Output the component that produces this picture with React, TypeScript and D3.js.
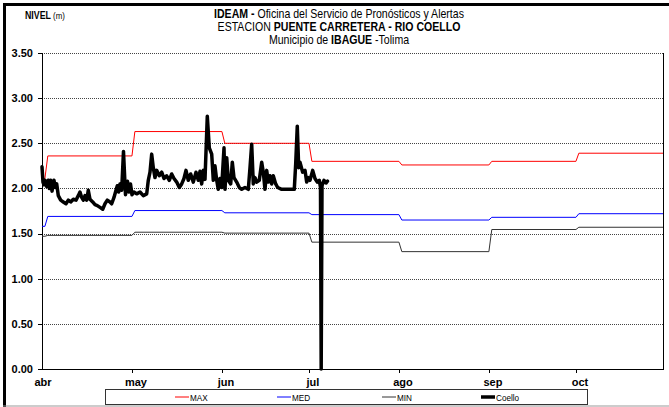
import React from "react";
import * as d3 from "d3";

// ---------- data ----------
const AXIS_START = "2013-03-31";
const AXIS_END = "2013-10-31";
const MONTH_LABELS = ["abr", "may", "jun", "jul", "ago", "sep", "oct"];
const MONTH_STARTS = ["2013-04-01", "2013-05-01", "2013-06-01", "2013-07-01", "2013-08-01", "2013-09-01", "2013-10-01"];
const Y_TICKS = [0, 0.5, 1.0, 1.5, 2.0, 2.5, 3.0, 3.5];

// historical statistics (m): value on the first day, then one value per month abr..oct
const MAX_START = 2.11;
const MAX_MONTHLY = [2.36, 2.63, 2.5, 2.3, 2.26, 2.3, 2.39];
const MED_START = 1.58;
const MED_MONTHLY = [1.69, 1.755, 1.73, 1.71, 1.65, 1.68, 1.72];
const MIN_START = 1.47;
const MIN_MONTHLY = [1.48, 1.515, 1.505, 1.405, 1.3, 1.545, 1.57];

// observed level, Rio Coello (days after 31 Mar, level m)
const COELLO_DAYS = [
  0, 0.34, 0.69, 1.03, 1.62, 2.17, 2.52, 3.0, 3.45, 4.13, 4.58, 5.07, 5.62, 6.44, 7.34, 8.27, 9.06, 9.89,
  10.79, 11.72, 12.51, 13.09, 13.68, 14.23, 14.82, 15.4, 15.95, 16.54, 17.47, 18.26, 19.06, 19.99, 20.92,
  21.71, 22.5, 23.43, 24.02, 24.81, 25.5, 25.95, 26.43, 26.88, 27.46, 28.08, 28.77, 29.46, 29.98, 30.5,
  31.01, 31.7, 32.63, 33.77, 34.91, 36.08, 36.63, 37.22, 37.8, 38.35, 38.94, 39.52, 40.42, 41.25, 42.04,
  42.97, 43.87, 44.69, 45.49, 46.42, 47.31, 48.14, 48.93, 49.62, 50.41, 51.24, 52.14, 53.07, 53.86, 54.45,
  55.03, 55.58, 56.17, 56.96, 57.65, 58.48, 59.03, 59.61, 60.2, 60.75, 61.34, 61.92, 62.72, 63.06, 63.65,
  64.2, 65.03, 65.58, 66.16, 67.09, 67.99, 68.82, 69.95, 71.09, 71.68, 72.26, 72.81, 73.4, 73.98, 74.88,
  75.71, 76.26, 76.84, 77.43, 77.98, 78.57, 79.15, 79.7, 80.53, 81.22, 82.6, 84.32, 86.94, 87.42, 87.97,
  88.46, 88.9, 89.83, 90.63, 91.21, 91.76, 92.35, 93.28, 94.07, 94.87, 95.55, 95.97, 96.21, 96.49, 97.17,
  97.86, 98.38,
];
const COELLO_LEVEL = [
  2.24, 2.07, 2.04, 2.09, 2.02, 2.09, 2.0, 2.09, 1.97, 2.09, 2.01, 2.05, 1.92, 1.87, 1.85, 1.83, 1.87, 1.85,
  1.88, 1.87, 1.92, 1.96, 1.9, 1.87, 1.92, 1.87, 1.98, 1.88, 1.85, 1.82, 1.81, 1.79, 1.77,
  1.83, 1.87, 1.85, 1.83, 1.9, 1.98, 2.03, 1.96, 2.05, 1.98, 2.41, 1.93, 2.08, 1.96, 2.05,
  1.93, 1.96, 1.94, 1.96, 1.92, 1.94, 2.09, 2.18, 2.38, 2.23, 2.12, 2.2, 2.14, 2.18, 2.11,
  2.14, 2.09, 2.16, 2.11, 2.07, 2.01, 2.05, 2.11, 2.2, 2.09, 2.16, 2.07, 2.18, 2.09, 2.19,
  2.05, 2.2, 2.1, 2.8, 2.45, 2.38, 2.09, 2.25, 2.09, 1.99, 2.11, 2.01, 2.45, 1.99, 2.34,
  2.09, 2.05, 2.29, 2.12, 2.07, 2.01, 1.99, 2.01, 1.99, 2.23, 2.49, 2.05, 2.12, 2.07, 2.09,
  2.29, 2.18, 1.99, 2.2, 2.07, 2.14, 2.05, 2.14, 2.05, 2.01, 1.99, 1.99, 1.99, 2.27, 2.69,
  2.23, 2.29, 2.18, 2.2, 2.07, 2.12, 2.09, 2.2, 2.11, 2.07, 2.09, 2.01, 0.0, 2.03, 2.09,
  2.06, 2.08,
];

const LEGEND = [
  { name: "MAX", color: "#ff0000", width: 1 },
  { name: "MED", color: "#0000ff", width: 1 },
  { name: "MIN", color: "#333333", width: 1 },
  { name: "Coello", color: "#000000", width: 3.5 },
];

// ---------- helpers ----------
const parse = d3.timeParse("%Y-%m-%d");
const DAY = 86400000;
const SANS = "'Liberation Sans', Arial, sans-serif";

type P = [Date, number];

function stepSeries(start: number, monthly: number[]): P[] {
  const a = parse(AXIS_START)!;
  const end = parse(AXIS_END)!;
  const pts: P[] = [[a, start], [parse(MONTH_STARTS[0])!, start]];
  monthly.forEach((v, i) => {
    const s = d3.timeDay.offset(parse(MONTH_STARTS[i])!, 1);
    const e = i + 1 < MONTH_STARTS.length ? parse(MONTH_STARTS[i + 1])! : end;
    pts.push([s, v], [e, v]);
  });
  return pts;
}

function Narrow({
  x,
  y,
  anchor = "start",
  size,
  scale = 0.84,
  children,
}: {
  x: number;
  y: number;
  anchor?: string;
  size: number;
  scale?: number;
  children: React.ReactNode;
}) {
  return (
    <g transform={`translate(${x},${y}) scale(${scale},1)`}>
      <text x={0} y={0} textAnchor={anchor} fontFamily={SANS} fontSize={size}>
        {children}
      </text>
    </g>
  );
}

export default function App() {
  const W = 669;
  const H = 407;
  const left = 42, right = 663, top = 53, bottom = 369;

  const x = d3.scaleTime().domain([parse(AXIS_START)!, parse(AXIS_END)!]).range([left, right]);
  const y = d3.scaleLinear().domain([0, 3.5]).range([bottom, top]);

  const line = d3.line<P>().x((d) => x(d[0])).y((d) => y(d[1]));

  const base = parse(AXIS_START)!.getTime();
  const coello: P[] = COELLO_DAYS.map((d, i) => [new Date(base + d * DAY), COELLO_LEVEL[i]]);

  const series = [
    { pts: stepSeries(MAX_START, MAX_MONTHLY), ...LEGEND[0] },
    { pts: stepSeries(MED_START, MED_MONTHLY), ...LEGEND[1] },
    { pts: stepSeries(MIN_START, MIN_MONTHLY), ...LEGEND[2] },
  ];

  const monthDates = MONTH_STARTS.map((s) => parse(s)!);
  const legendX = [175, 277, 382, 481];

  return (
    <svg width={W} height={H} style={{ position: "absolute", left: 0, top: 0, background: "#fff" }}>
      <rect x={0} y={0} width={W} height={H} fill="#fff" />
      {/* frame */}
      <rect x={3} y={3} width={3} height={H - 3} fill="#000" />
      <rect x={3} y={3} width={W - 3} height={3} fill="#000" />
      <line x1={3} x2={W} y1={406} y2={406} stroke="#999" strokeWidth={1} />

      {/* title */}
      <Narrow x={25} y={19} size={10} scale={0.88}>
        <tspan fontWeight="bold">NIVEL</tspan>
        <tspan fontSize={9}> (m)</tspan>
      </Narrow>
      <Narrow x={339} y={18} anchor="middle" size={12} scale={0.88}>
        <tspan fontWeight="bold">IDEAM - </tspan>
        <tspan>Oficina del Servicio de Pronósticos y Alertas</tspan>
      </Narrow>
      <Narrow x={339} y={31} anchor="middle" size={12} scale={0.88}>
        <tspan>ESTACION </tspan>
        <tspan fontWeight="bold">PUENTE CARRETERA - RIO COELLO</tspan>
      </Narrow>
      <Narrow x={339} y={44} anchor="middle" size={12} scale={0.88}>
        <tspan>Municipio de </tspan>
        <tspan fontWeight="bold">IBAGUE</tspan>
        <tspan> -Tolima</tspan>
      </Narrow>

      {/* gridlines */}
      {Y_TICKS.filter((t) => t > 0).map((t) => (
        <line
          key={t}
          x1={left}
          x2={right}
          y1={Math.round(y(t)) + 0.5}
          y2={Math.round(y(t)) + 0.5}
          stroke="#444"
          strokeWidth={1}
          strokeDasharray="1 1"
        />
      ))}

      {/* y axis */}
      {Y_TICKS.map((t) => (
        <g key={"yt" + t}>
          <line x1={left - 4} x2={left} y1={Math.round(y(t)) + 0.5} y2={Math.round(y(t)) + 0.5} stroke="#000" />
          <text
            x={left - 9}
            y={y(t)}
            dy="0.35em"
            textAnchor="end"
            fontFamily={SANS}
            fontWeight="bold"
            fontSize={11}
          >
            {t.toFixed(2)}
          </text>
        </g>
      ))}
      <line x1={left + 0.5} x2={left + 0.5} y1={top} y2={bottom} stroke="#000" />
      <line x1={right + 0.5} x2={right + 0.5} y1={top} y2={bottom} stroke="#000" />
      <line x1={left} x2={right + 1} y1={bottom + 0.5} y2={bottom + 0.5} stroke="#000" />

      {/* x axis */}
      {monthDates.map((d, i) => (
        <g key={"xm" + i}>
          {i > 0 && (
            <line
              x1={Math.round(x(d)) + 0.5}
              x2={Math.round(x(d)) + 0.5}
              y1={bottom}
              y2={bottom + 4}
              stroke="#000"
            />
          )}
          <text
            x={i === 0 ? left + 1 : x(d) + 4}
            y={386}
            textAnchor="middle"
            fontFamily={SANS}
            fontWeight="bold"
            fontSize={11}
          >
            {MONTH_LABELS[i]}
          </text>
        </g>
      ))}

      {/* series */}
      {series.map((s) => (
        <path key={s.name} d={line(s.pts)!} fill="none" stroke={s.color} strokeWidth={s.width} />
      ))}
      <path
        d={line(coello)!}
        fill="none"
        stroke="#000"
        strokeWidth={3.5}
        strokeLinejoin="round"
        strokeLinecap="round"
      />

      {/* legend */}
      <rect x={105.5} y={389.5} width={482} height={15} fill="#fff" stroke="#333" strokeWidth={1} />
      {LEGEND.map((l, i) => (
        <g key={"lg" + l.name}>
          <line
            x1={legendX[i]}
            x2={legendX[i] + 14}
            y1={397}
            y2={397}
            stroke={l.color}
            strokeWidth={l.width}
          />
          <Narrow x={legendX[i] + 15} y={400.5} size={9.5} scale={0.86}>
            {l.name}
          </Narrow>
        </g>
      ))}
    </svg>
  );
}
